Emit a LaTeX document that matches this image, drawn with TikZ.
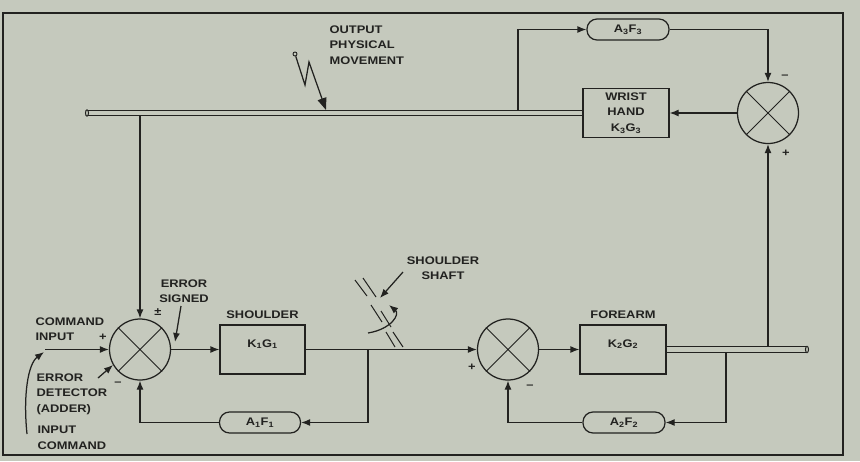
\documentclass[tikz,border=0pt]{standalone}
\usepackage{fontspec}
\setmainfont[FakeStretch=1.17]{Liberation Sans}
\usetikzlibrary{arrows.meta,positioning}
\definecolor{paper}{RGB}{197,201,189}
\definecolor{ink}{RGB}{34,34,32}

\begin{document}
\begin{tikzpicture}[x=1pt,y=-1pt,
    color=ink,line width=1.25pt,
    font=\fontsize{11}{15.5}\selectfont\bfseries,
    box/.style={draw,minimum width=85pt,inner sep=0pt,align=center},
    gain/.style={box,text height=22pt,text depth=27pt},
    loopbox/.style={draw,rounded corners=10pt,minimum width=81pt,minimum height=21pt,inner sep=0pt},
    sum/.style={draw,circle,minimum size=61pt,inner sep=0pt},
    rod/.style={double=paper,double distance=4.3pt},
    sign/.style={inner sep=0pt},
    lbl/.style={align=left,inner sep=0pt},
    >={Latex[length=9pt,width=7pt]}]
  \fill[paper] (0,0) rectangle (860,461);
  \draw[line width=1.6pt] (3,13) rectangle (843,455);
  % summing points and blocks
  \node[sum] (s1) at (140,349.5) {};
  \node[gain] (k1) at (262.5,349.5) {K\textsubscript{1}G\textsubscript{1}};
  \node[sum] (s2) at (508,349.5) {};
  \node[gain,minimum width=86pt] (k2) at (623,349.5) {K\textsubscript{2}G\textsubscript{2}};
  \node[sum] (s3) at (768,113) {};
  \node[box,minimum width=86pt,minimum height=49pt] (k3) at (626,113) {WRIST\\HAND\\K\textsubscript{3}G\textsubscript{3}};
  \node[loopbox] (a1) at (260,422.5) {A\textsubscript{1}F\textsubscript{1}};
  \node[loopbox,minimum width=82pt] (a2) at (624,422.5) {A\textsubscript{2}F\textsubscript{2}};
  \node[loopbox,minimum width=82pt] (a3) at (628,29.5) {A\textsubscript{3}F\textsubscript{3}};
  \foreach \s in {s1,s2,s3}
    \draw[line width=1pt] (\s.north east) -- (\s.south west) (\s.north west) -- (\s.south east);
  \node[above=2pt of k1] (shlbl) {SHOULDER};
  \node[above=2pt of k2] (falbl) {FOREARM};
  % output shafts
  \draw[rod] (87,113) -- (k3.west);
  \draw[fill=paper,line width=1pt] (87,113) ellipse (1.5 and 3.2);
  \draw[rod] (k2.east) -- (807,349.5);
  \draw[fill=paper,line width=1pt] (807,349.5) ellipse (1.5 and 3.2);
  \coordinate (tap0) at (140,115.8);
  \coordinate (tap1) at (368,349.5);
  \coordinate (tap2) at (726,352.2);
  \coordinate (tap3) at (518,110.3);
  \coordinate (tap4) at (768,346.8);
  \coordinate (cin) at (45,349.5);
  % signal paths
  \draw[->] (cin) -- (s1.west);
  \draw[->] (tap0) -- (s1.north);
  \draw[->] (s1.east) -- (k1.west);
  \draw[->] (k1.east) -- (s2.west);
  \draw[->] (tap1) |- (a1.east);
  \draw[->] (a1.west) -| (s1.south);
  \draw[->] (s2.east) -- (k2.west);
  \draw[->] (tap2) |- (a2.east);
  \draw[->] (a2.west) -| (s2.south);
  \draw[->] (tap4) -- (s3.south);
  \draw[->] (s3.west) -- (k3.east);
  \draw[->] (tap3) |- (a3.west);
  \draw[->] (a3.east) -| (s3.north);
  % signs
  \node[sign] at (103,337) {+};
  \node[sign] at (158,312) {±};
  \node[sign] at (118,384) {--};
  \node[sign] at (472,367) {+};
  \node[sign] at (530,387) {--};
  \node[sign] at (785,77) {--};
  \node[sign] at (786,153) {+};
  % notes
  \node[lbl,anchor=west] (cmdin) at (35,329) {COMMAND\\INPUT};
  \node[align=center,inner sep=0pt] (errsig) at (184,291) {ERROR\\SIGNED};
  \node[lbl,anchor=west] (errdet) at (36,394) {ERROR\\DETECTOR\\(ADDER)};
  \node[lbl,anchor=west] (incmd) at (37,438) {INPUT\\COMMAND};
  \node[lbl,anchor=west] (outmov) at (329,45) {OUTPUT\\PHYSICAL\\MOVEMENT};
  \node[align=center,inner sep=0pt] (shaft) at (443,268) {SHOULDER\\SHAFT};
  \coordinate (es0) at (181,306);
  \coordinate (es1) at (175,342);
  \draw[->] (es0) -- (es1);
  \coordinate (ed0) at (98,378);
  \coordinate (ed1) at (113,365);
  \draw[->] (ed0) -- (ed1);
  \coordinate (ic0) at (27,434);
  \coordinate (ic1) at (44,352);
  \draw[->] (ic0) .. controls (23,395) and (28,364) .. (ic1);
  % shoulder shaft break and twist
  \foreach \xa/\ya/\xb/\yb in {355/280/367/296,363/278/376/297,371/305/382/322,
      381/311/391/327,386/332/395/347,393/332/403/347}
    \draw[line width=1pt] (\xa,\ya) -- (\xb,\yb);
  \coordinate (sh0) at (403,272);
  \coordinate (sh1) at (380,298);
  \draw[->] (sh0) -- (sh1);
  \coordinate (tw0) at (368,333);
  \coordinate (tw1) at (389,305);
  \draw[->] (tw0) .. controls (392,329) and (400,314) .. (tw1);
  % movement probe
  \node[circle,draw,inner sep=0pt,minimum size=4pt,line width=0.9pt] (probe) at (295,54) {};
  \coordinate (mv1) at (326,110);
  \draw[-{Triangle[length=12pt,width=9pt]}] (probe) -- (305,85) -- (309,62) -- (mv1);
\end{tikzpicture}
\end{document}
